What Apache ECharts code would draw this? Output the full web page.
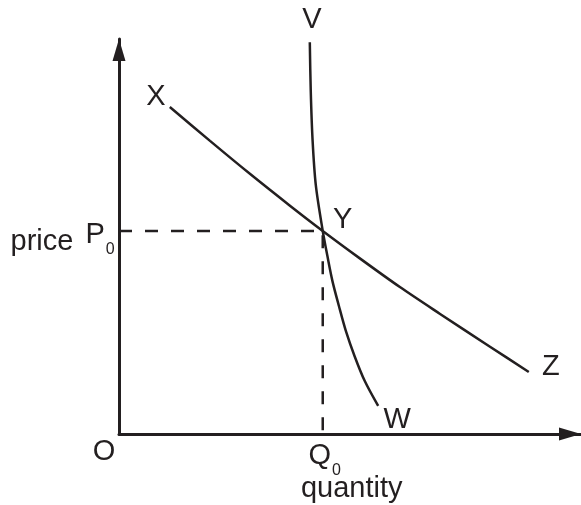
<!DOCTYPE html>
<html>
<head>
<meta charset="utf-8">
<script src="https://cdn.jsdelivr.net/npm/echarts@6/dist/echarts.min.js"></script>
<style>
html,body{margin:0;padding:0;background:#fff;}
#chart{width:581px;height:505px;}
</style>
</head>
<body>
<div id="chart"></div>
<script>
// Data (arbitrary units)
const Q0 = 4.41;
const P0 = 5.14;
// Curve X–Y–Z (flatter curve)
const curveXZ = [[1.10, 8.28], [1.97, 7.42], [2.84, 6.58], [3.70, 5.78], [4.41, 5.14], [5.22, 4.44],
                 [6.08, 3.72], [6.95, 3.04], [8.03, 2.21], [8.87, 1.57]];
// Curve V–Y–W (steep curve)
const curveVW = [[4.13, 9.92], [4.15, 8.71], [4.19, 7.44], [4.26, 6.30], [4.41, 5.14], [4.51, 4.51],
                 [4.62, 3.87], [4.76, 3.24], [4.91, 2.61], [5.10, 1.97], [5.32, 1.34], [5.61, 0.71]];
const axisRange = {xMax: 10, yMax: 10};

const ink = '#231f20';
const font = '"Liberation Sans", Arial, sans-serif';
const big = 29, sub = 16;

const sub0rich = {
  m: {fontSize: big, lineHeight: big, verticalAlign: 'top', fontFamily: font, color: ink},
  s: {fontSize: sub, lineHeight: sub, verticalAlign: 'top', padding: [21, 0, 0, 1], fontFamily: font, color: ink}
};

function lab(pt, text, offset, extra) {
  return {
    value: pt,
    label: Object.assign({show: true, formatter: text, offset: offset, position: 'inside',
      align: 'center', verticalAlign: 'middle', fontSize: big, fontFamily: font, color: ink}, extra || {})
  };
}
const first = a => a[0];
const last = a => a[a.length - 1];

const labels = [
  lab(first(curveXZ), 'X', [-14, -10]),
  lab(last(curveXZ), 'Z', [22, -5]),
  lab(first(curveVW), 'V', [2, -22]),
  lab(last(curveVW), 'W', [19, 14]),
  lab([Q0, P0], 'Y', [20, -11]),
  lab([0, 0], 'O', [-15, 18]),
  lab([Q0, 0], '{m|Q}{s|0}', [2, 22], {rich: sub0rich}),
  lab([Q0, 0], 'quantity', [29, 55]),
  lab([0, P0], '{m|P}{s|0}', [-19, 4], {rich: sub0rich}),
  lab([0, P0], 'price', [-77, 11])
];

const axisCommon = {
  type: 'value', min: 0,
  splitLine: {show: false}, axisTick: {show: false}, axisLabel: {show: false},
  axisLine: {show: true, onZero: false, lineStyle: {color: ink, width: 3},
    symbol: ['none', 'triangle'], symbolSize: [13, 22], symbolOffset: [0, -11]}
};

const chart = echarts.init(document.getElementById('chart'), null, {renderer: 'canvas'});
chart.setOption({
  animation: false,
  backgroundColor: '#fff',
  grid: {left: 119, right: 0, top: 39, bottom: 71, containLabel: false},
  xAxis: Object.assign({}, axisCommon, {max: axisRange.xMax}),
  yAxis: Object.assign({}, axisCommon, {max: axisRange.yMax}),
  series: [
    {type: 'line', data: [[0, P0], [Q0, P0], [Q0, 0]], symbol: 'none', clip: false,
      lineStyle: {color: ink, width: 2.5, type: [13, 13]}, z: 1},
    {type: 'line', data: curveXZ, smooth: 0.3, symbol: 'none', clip: false,
      lineStyle: {color: ink, width: 2.5}, z: 2},
    {type: 'line', data: curveVW, smooth: 0.3, symbol: 'none', clip: false,
      lineStyle: {color: ink, width: 2.5}, z: 2},
    {type: 'scatter', data: labels, symbolSize: 0, clip: false, silent: true, z: 3,
      itemStyle: {opacity: 1}, emphasis: {disabled: true}}
  ]
});
</script>
</body>
</html>
